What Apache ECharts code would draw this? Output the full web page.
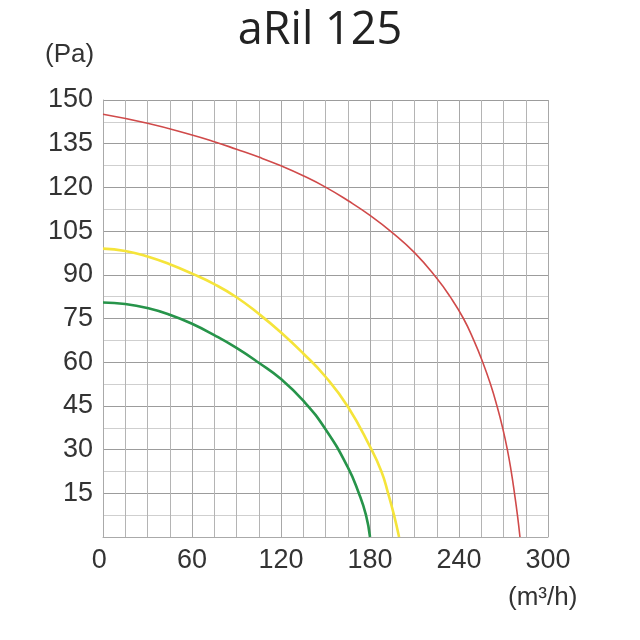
<!DOCTYPE html>
<html>
<head>
<meta charset="utf-8">
<script src="https://cdn.jsdelivr.net/npm/echarts@6/dist/echarts.min.js"></script>
</head>
<body style="margin:0; background:#fff;">
<div id="chart" style="width:640px; height:640px;"></div>
<script>
// airflow (m³/h) vs pressure (Pa)
let redCurve = [
    [0, 145.1], [30, 142], [60, 138], [75, 135.7], [90, 133.1], [105, 130.4],
    [120, 127.4], [135, 124], [150, 120.1], [165, 115.5], [180, 110.4],
    [195, 104.5], [210, 97.6], [225, 88.8], [234, 82.5], [243, 75],
    [250, 67.5], [256, 60], [261.2, 52.5], [265.6, 45], [269.4, 37.5],
    [272.6, 30], [275.2, 22.5], [277.4, 15], [279.4, 7.5], [281.1, 0]
]
let yellowCurve = [
    [0, 99], [15, 98.2], [30, 96.3], [45, 93.6], [60, 90.4], [75, 86.8],
    [90, 82.3], [105, 76.6], [120, 70.2], [135, 63], [150, 55], [165, 44.8],
    [180, 31], [187.7, 22.5], [192.2, 15], [196.2, 7.5], [199.6, 0]
]
let greenCurve = [
    [0, 80.5], [15, 80], [30, 78.6], [45, 76.3], [60, 73.2], [75, 69.3],
    [90, 64.9], [105, 59.8], [120, 54.2], [135, 46.8], [150, 37], [165, 24],
    [172.5, 15], [177.3, 7.5], [180, 0]
]

let titleText = "aRil 125"
let yName = "(Pa)"
let xName = "(m³/h)"

let labelFont = "Liberation Sans"

let myChart = echarts.init(document.getElementById("chart"))

let makeLine = (data, color, width) => ({
    type: "line",
    data: data,
    smooth: 0.5,
    symbol: "none",
    lineStyle: { color: color, width: width },
    animation: false
})

let option = {
    backgroundColor: "#fff",
    title: {
        text: titleText,
        left: "center",
        top: 4,
        textStyle: {
            fontFamily: "Open Sans",
            fontWeight: "normal",
            fontSize: 45,
            color: "#222"
        }
    },
    graphic: [
        {
            type: "text",
            left: 45,
            top: 42,
            style: { text: yName, font: "26px " + labelFont, fill: "#333" }
        },
        {
            type: "text",
            left: 508,
            top: 585,
            style: { text: xName, font: "26px " + labelFont, fill: "#333" }
        }
    ],
    grid: {
        left: 103,
        right: 92,
        top: 100,
        bottom: 103
    },
    xAxis: {
        type: "value",
        min: 0,
        max: 300,
        interval: 60,
        axisLine: { show: true, lineStyle: { color: "#aaa", width: 1 } },
        axisTick: { show: false },
        axisLabel: {
            fontFamily: labelFont,
            fontSize: 27,
            color: "#333",
            margin: 10,
            formatter: v => (v === 0 ? "0 " : v)
        },
        splitLine: { show: true, lineStyle: { color: "#a8a8a8", width: 1 } },
        minorTick: { show: false, splitNumber: 4 },
        minorSplitLine: { show: true, lineStyle: { color: "#b4b4b4", width: 1 } }
    },
    yAxis: {
        type: "value",
        min: 0,
        max: 150,
        interval: 15,
        axisLine: { show: true, lineStyle: { color: "#aaa", width: 1 } },
        axisTick: { show: false },
        axisLabel: {
            fontFamily: labelFont,
            fontSize: 27,
            color: "#333",
            margin: 10,
            formatter: v => (v === 0 ? "" : v)
        },
        splitLine: { show: true, lineStyle: { color: "#9c9c9c", width: 1 } },
        minorTick: { show: false, splitNumber: 2 },
        minorSplitLine: { show: true, lineStyle: { color: "#cfcfcf", width: 1 } }
    },
    series: [
        makeLine(redCurve, "#d04a4a", 1.6),
        makeLine(yellowCurve, "#f5e43a", 2.6),
        makeLine(greenCurve, "#27944a", 2.6)
    ]
}
myChart.setOption(option)
</script>
</body>
</html>
